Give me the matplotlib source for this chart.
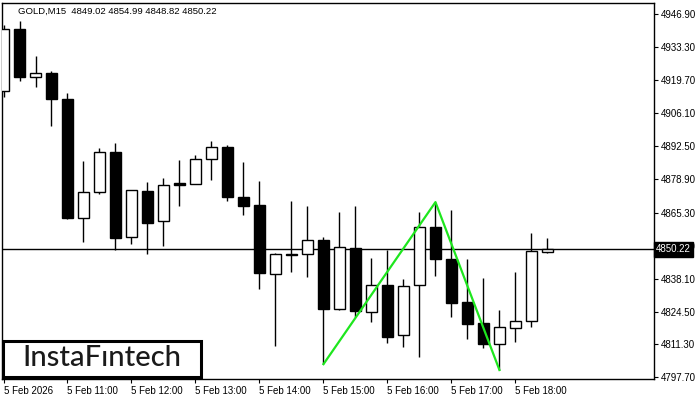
import matplotlib
matplotlib.use("Agg")
import matplotlib.pyplot as plt
from matplotlib.patches import Rectangle

# ---- data (GOLD, M15, 5 Feb 2026 from 10:00) ----
opens = [4915.4, 4940.6, 4920.9, 4922.7, 4911.9, 4863.2, 4873.9, 4890.1, 4855.1, 4874.0,
         4861.7, 4877.4, 4876.9, 4887.2, 4892.1, 4871.6, 4868.3, 4839.9, 4848.2, 4848.1,
         4854.0, 4825.8, 4850.6, 4824.5, 4835.4, 4814.8, 4835.4, 4859.2, 4846.2, 4828.5,
         4819.9, 4811.4, 4817.7, 4820.6, 4849.02]
highs = [4942.4, 4944.0, 4929.6, 4923.6, 4914.3, 4886.5, 4892.0, 4894.0, 4874.4, 4878.0,
         4879.4, 4886.9, 4888.9, 4894.7, 4893.1, 4886.1, 4878.1, 4848.5, 4870.0, 4868.0,
         4855.1, 4865.5, 4868.0, 4846.6, 4849.9, 4837.9, 4865.5, 4869.6, 4866.3, 4846.2,
         4838.3, 4825.2, 4840.9, 4856.9, 4854.99]
lows = [4912.7, 4919.5, 4917.0, 4901.0, 4862.6, 4853.3, 4872.9, 4849.9, 4852.2, 4848.3,
        4851.7, 4868.1, 4876.9, 4878.7, 4870.2, 4864.4, 4834.0, 4810.6, 4841.0, 4838.9,
        4803.0, 4825.2, 4822.5, 4820.4, 4811.6, 4810.2, 4806.0, 4839.2, 4822.2, 4813.4,
        4809.7, 4800.6, 4812.2, 4818.4, 4848.82]
closes = [4940.6, 4920.9, 4922.7, 4911.8, 4862.9, 4873.6, 4890.1, 4855.0, 4874.4, 4861.1,
          4876.5, 4876.6, 4887.2, 4892.2, 4871.8, 4868.1, 4840.3, 4848.1, 4848.0, 4853.9,
          4825.8, 4851.0, 4825.0, 4835.4, 4814.3, 4835.0, 4859.2, 4846.4, 4828.2, 4819.6,
          4811.4, 4818.1, 4820.6, 4849.5, 4850.22]

time_tick_idx = [0, 4, 8, 12, 16, 20, 24, 28, 32]
time_labels = ["5 Feb 2026", "5 Feb 11:00", "5 Feb 12:00", "5 Feb 13:00", "5 Feb 14:00",
               "5 Feb 15:00", "5 Feb 16:00", "5 Feb 17:00", "5 Feb 18:00"]
price_ticks = [4946.90, 4933.30, 4919.70, 4906.10, 4892.50, 4878.90, 4865.30,
               4851.70, 4838.10, 4824.50, 4811.30, 4797.70]
pattern_idx = [20, 27, 31]
pattern_kind = ["low", "high", "low"]
title = "GOLD,M15  4849.02 4854.99 4848.82 4850.22"
last_price = closes[-1]

W, H = 700, 400
fig = plt.figure(figsize=(W / 100, H / 100), dpi=100)
fig.patch.set_facecolor("white")
ax = fig.add_axes([2 / W, 1 - 379 / H, (654 - 2) / W, (379 - 3) / H])
ax.set_facecolor("white")

FONT = "Liberation Sans"
body_w = 0.64
for i, (o, h, l, c) in enumerate(zip(opens, highs, lows, closes)):
    ax.plot([i, i], [l, h], color="black", lw=1.0, solid_capstyle="butt", zorder=2)
    bottom = min(o, c)
    height = max(abs(c - o), 0.35)
    face = "white" if c >= o else "black"
    ax.add_patch(Rectangle((i - body_w / 2, bottom), body_w, height,
                           facecolor=face, edgecolor="black", lw=1.0, zorder=3))

# current price line
ax.axhline(last_price, color="black", lw=1.0, zorder=1)

# pattern line
px = pattern_idx
py = [lows[i] if k == "low" else highs[i] for i, k in zip(pattern_idx, pattern_kind)]
ax.plot(px, py, color="#1ee61e", lw=1.6, zorder=5)

ax.set_xlim(-0.094, 40.66)
ax.set_ylim(4796.9, 4951.42)

ax.yaxis.tick_right()
ax.set_yticks(price_ticks)
ax.set_yticklabels([f"{v:.2f}" for v in price_ticks], fontsize=7, family=FONT)
ax.set_xticks(time_tick_idx)
ax.set_xticklabels(time_labels, fontsize=7, family=FONT, ha="left")
ax.tick_params(axis="y", direction="out", length=3, width=0.8, pad=2, colors="black")
ax.tick_params(axis="x", direction="out", length=3, width=0.8, pad=2, colors="black")
for lab in ax.get_xticklabels():
    lab.set_horizontalalignment("left")
for s in ax.spines.values():
    s.set_color("black")
    s.set_linewidth(1.0)

# current price tag (covers the neighbouring tick label, as in the terminal)
ax.text(1.0 + 2 / (654 - 2), last_price, f"{last_price:.2f}", transform=ax.get_yaxis_transform(),
        fontsize=7, family=FONT, color="white", va="center", ha="left", zorder=10,
        bbox=dict(boxstyle="square,pad=0.25", facecolor="black", edgecolor="black"),
        clip_on=False)

# title
ax.text(16 / (654 - 2), 1 - 8 / 376, title, transform=ax.transAxes, fontsize=6.8, family=FONT,
        color="black", va="center", ha="left")

# logo
fig.patches.append(Rectangle((3 / W, 1 - 377 / H), 198 / W, 36 / H, transform=fig.transFigure,
                             facecolor="white", edgecolor="black", lw=2.2, zorder=20))
fig.text(102 / W, 1 - 358.5 / H, "InstaF\u0131ntech", fontsize=21, family="Lato",
         fontweight="medium", color="#1a1a1a", ha="center", va="center", zorder=21)

fig.savefig("out.png", dpi=100, facecolor="white")
